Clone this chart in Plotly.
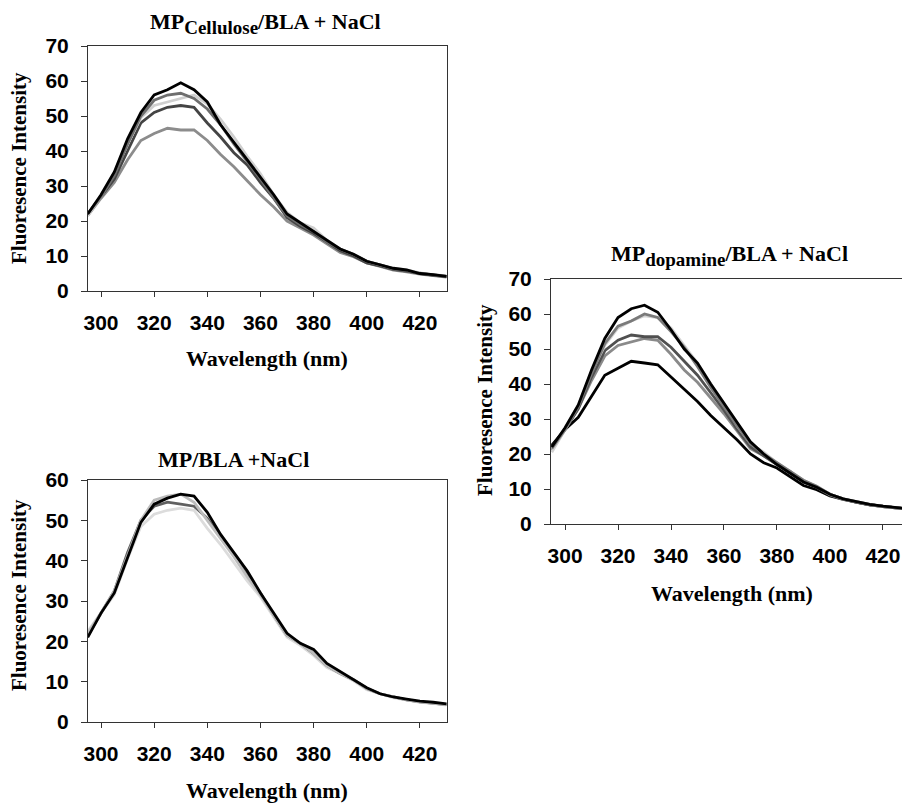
import plotly.graph_objects as go

# ---------------- data ----------------
wavelength = [295, 300, 305, 310, 315, 320, 325, 330, 335, 340, 345, 350, 355, 360,
              365, 370, 375, 380, 385, 390, 395, 400, 405, 410, 415, 420, 425, 430]

# Panel A: MP_Cellulose/BLA + NaCl
cell_black = [22, 27.5, 34, 43.5, 51, 56, 57.5, 59.5, 57.5, 54, 47.5, 42.5, 37.5, 32.5,
              27.5, 22, 19.5, 17, 14.5, 12, 10.5, 8.5, 7.5, 6.5, 6, 5, 4.7, 4.2]
cell_gray = [22, 27, 33, 42, 50, 54.5, 56, 56.5, 55, 52, 47.5, 42, 37, 32,
             26.5, 21.5, 19, 17, 14, 12, 10.5, 8.5, 7.5, 6.3, 5.8, 5, 4.6, 4.2]
cell_light = [21.5, 27, 33.5, 42, 49.5, 53, 54, 55, 56, 53.5, 49, 44, 38.5, 33.5,
              27.5, 22.5, 19.5, 18, 14.5, 12, 10.5, 8.5, 7.5, 6.5, 6, 5.2, 4.7, 4.3]
cell_dark = [22, 27, 32, 40, 48, 51, 52.5, 53, 52.5, 48, 44, 39.5, 36, 31,
             26.5, 21, 18.5, 16.5, 14, 11.5, 10, 8, 7.2, 6.2, 5.7, 5, 4.5, 4.2]
cell_mid = [21.5, 26.5, 31, 37.5, 43, 45, 46.5, 46, 46, 43, 39, 35.5, 31.5, 27.5,
            24, 20, 18, 16, 13.5, 11, 9.8, 8, 7, 6, 5.5, 4.8, 4.4, 4.0]

# Panel B: MP_dopamine/BLA + NaCl
dopa_black_top = [22, 27.5, 34, 44, 53, 59, 61.5, 62.5, 60.5, 55.5, 50, 46, 40, 34.5,
                  29, 23.5, 20, 17, 14.5, 12, 10.5, 8.5, 7.2, 6.3, 5.6, 5.1, 4.6, 4.3]
dopa_gray = [21.5, 27, 33.5, 43, 51.5, 56.5, 58, 60, 59, 55, 50.5, 45, 39, 33.5,
             28, 23, 20, 17.5, 15, 12.5, 10.8, 8.5, 7.2, 6.3, 5.6, 5, 4.5, 4.2]
dopa_light = [20.5, 27, 34, 43.5, 51, 56, 58, 59.5, 59, 56, 51, 46, 40, 34.5,
              28, 23, 20.5, 17.5, 15, 12.5, 10.8, 8.5, 7.2, 6.3, 5.6, 5, 4.6, 4.2]
dopa_dark = [22, 27, 33, 42, 49.5, 52.5, 54, 53.5, 53.5, 50.5, 46.5, 42.5, 37.5, 32.5,
             27, 22, 19.5, 17, 15, 12, 10.5, 8.5, 7.2, 6.2, 5.5, 5, 4.5, 4.2]
dopa_mid = [21, 27, 33, 41, 48, 51, 52, 53, 52.5, 48.5, 44, 40.5, 36, 31.5,
            26.5, 21.5, 19.5, 17, 14.5, 12, 10.5, 8.3, 7, 6.2, 5.5, 5, 4.5, 4.2]
dopa_black_low = [22.5, 27, 30.5, 36.5, 42.5, 44.5, 46.5, 46, 45.5, 42, 38.5, 35, 31, 27.5,
                  24, 20, 17.5, 16, 13.5, 11, 9.8, 8, 7, 6.2, 5.5, 5, 4.5, 4.2]

# Panel C: MP/BLA +NaCl
mp_black = [21, 27, 32, 41, 49.5, 54, 55.5, 56.5, 56, 52, 46.5, 42, 37.5, 32,
            27, 22, 19.5, 18, 14.5, 12.5, 10.5, 8.5, 7, 6.2, 5.7, 5.2, 4.9, 4.5]
mp_light = [22, 27, 32.5, 41.5, 50, 55, 56, 56.5, 54.5, 50, 45.5, 41, 36, 31.5,
            26.5, 21.5, 19.5, 17, 14, 12, 10.5, 8.3, 7, 6.2, 5.5, 5, 4.7, 4.3]
mp_dark = [21.5, 27, 32.5, 42, 50, 53.5, 54.5, 54, 53.5, 50.5, 46, 41.5, 36.5, 32,
           26.5, 21.5, 19.5, 17, 14, 12, 10.5, 8.3, 7, 6.2, 5.5, 5, 4.7, 4.3]
mp_lightest = [22.5, 27, 31.5, 40.5, 48.5, 51.5, 52.5, 53, 52.5, 48, 44, 39.5, 35, 31,
               26, 21, 19, 16.5, 13.5, 12, 10.2, 8, 7, 6, 5.5, 4.9, 4.6, 4.2]

x_ticks = [300, 320, 340, 360, 380, 400, 420]
sub_style = "<sub><span style='font-size:19px'>{}</span></sub>"
titles = ["MP" + sub_style.format("Cellulose") + "/BLA + NaCl",
          "MP" + sub_style.format("dopamine") + "/BLA + NaCl",
          "MP/BLA +NaCl"]
x_title = "Wavelength (nm)"
y_title = "Fluoresence Intensity"

# ---------------- figure ----------------
W, H = 902, 807
fig = go.Figure()
LW = 2.8

def add(y, color, xa, ya):
    fig.add_trace(go.Scatter(x=wavelength, y=y, mode="lines",
                             line=dict(color=color, width=LW),
                             xaxis=xa, yaxis=ya, showlegend=False, hoverinfo="skip"))

# panel A
add(cell_mid, "#8c8c8c", "x", "y")
add(cell_dark, "#444444", "x", "y")
add(cell_light, "#cfcfcf", "x", "y")
add(cell_gray, "#6e6e6e", "x", "y")
add(cell_black, "#000000", "x", "y")
# panel B
add(dopa_black_low, "#000000", "x2", "y2")
add(dopa_mid, "#8a8a8a", "x2", "y2")
add(dopa_dark, "#505050", "x2", "y2")
add(dopa_light, "#d2d2d2", "x2", "y2")
add(dopa_gray, "#7a7a7a", "x2", "y2")
add(dopa_black_top, "#000000", "x2", "y2")
# panel C
add(mp_lightest, "#dcdcdc", "x3", "y3")
add(mp_dark, "#606060", "x3", "y3")
add(mp_light, "#bcbcbc", "x3", "y3")
add(mp_black, "#000000", "x3", "y3")

def px(v):
    return v / W

def py(v):
    return 1 - v / H

tickfont = dict(family="Liberation Sans, Arial", size=21, color="black", weight="bold")

def xaxis(domain, rng, anchor):
    return dict(domain=domain, range=rng, anchor=anchor, tickvals=x_ticks,
                showgrid=False, zeroline=False, showline=True, linecolor="#333333",
                linewidth=1, mirror=True, ticks="outside", ticklen=5, tickwidth=1,
                tickcolor="#333333", tickfont=tickfont, ticklabelstandoff=8)

def yaxis(domain, rng, anchor, dtick, mirror=True):
    return dict(domain=domain, range=rng, anchor=anchor, dtick=dtick, tick0=0,
                showgrid=False, zeroline=False, showline=True, linecolor="#333333",
                linewidth=1, mirror=mirror, ticks="outside", ticklen=6, tickwidth=1,
                tickcolor="#333333", tickfont=tickfont, ticklabelstandoff=8)

fig.update_layout(
    width=W, height=H,
    margin=dict(l=0, r=0, t=0, b=0, autoexpand=False),
    paper_bgcolor="white", plot_bgcolor="white",
    xaxis=xaxis([px(88), px(447)], [295.1, 430.2], "y"),
    yaxis=yaxis([py(291), py(46)], [0, 70], "x", 10),
    xaxis2=xaxis([px(551), 1.0], [294.7, 427.2], "y2"),
    yaxis2=yaxis([py(524), py(279)], [0, 70], "x2", 10, mirror=False),
    xaxis3=xaxis([px(88), px(447)], [295.1, 430.2], "y3"),
    yaxis3=yaxis([py(722), py(480)], [0, 60], "x3", 10),
)

serif = "Liberation Serif, Times New Roman"
ann = []
def text(t, x, y, size, angle=0):
    ann.append(dict(text=t, x=px(x), y=py(y), xref="paper", yref="paper",
                    showarrow=False, textangle=angle, xanchor="center", yanchor="middle",
                    font=dict(family=serif, size=size, color="black", weight="bold")))

# titles
text(titles[0], 265, 24, 22)
text(titles[1], 729, 255, 22)
text(titles[2], 234, 459, 22)
# x titles
text(x_title, 267, 358, 22)
text(x_title, 732, 593, 22)
text(x_title, 267, 790, 22)
# y titles
text(y_title, 19, 168, 21, -90)
text(y_title, 485, 400, 21, -90)
text(y_title, 19, 595, 21, -90)

fig.update_layout(annotations=ann)
fig.write_html("out.html", config={"displayModeBar": False},
               post_script="document.body.style.margin='0';")
